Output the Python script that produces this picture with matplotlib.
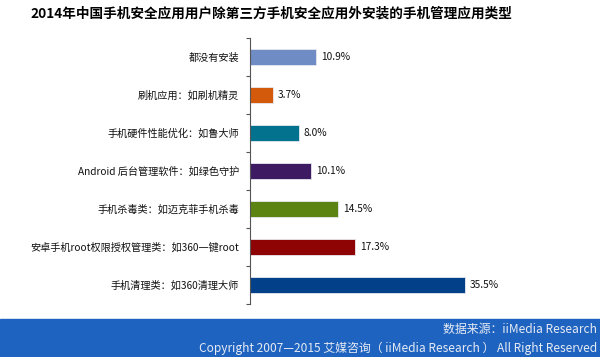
import matplotlib
matplotlib.use("Agg")
import matplotlib.pyplot as plt
from matplotlib.patches import Rectangle

plt.rcParams['font.family'] = ['Noto Sans CJK SC', 'DejaVu Sans']

# data, top to bottom as in the picture
categories = ["都没有安装", "刷机应用：如刷机精灵", "手机硬件性能优化：如鲁大师",
              "Android 后台管理软件：如绿色守护", "手机杀毒类：如迈克菲手机杀毒",
              "安卓手机root权限授权管理类：如360一键root", "手机清理类：如360清理大师"]
values = [10.9, 3.7, 8.0, 10.1, 14.5, 17.3, 35.5]
colors = ["#6f8cc4", "#d25a0a", "#03728f", "#3d1a62", "#5b8412", "#8e0404", "#03408a"]

title = "2014年中国手机安全应用用户除第三方手机安全应用外安装的手机管理应用类型"
source = "数据来源：iiMedia Research"
copyright_txt = "Copyright 2007—2015 艾媒咨询（ iiMedia Research ） All Right Reserved"

fig = plt.figure(figsize=(6, 3.57), dpi=100)
ax = fig.add_axes([0.417, 0.1485, 0.505, 0.745])

ypos = list(range(len(categories)))
ax.barh(ypos, values, height=0.42, color=colors, edgecolor="#e8e8f0", linewidth=0.6)
ax.set_ylim(len(categories) - 0.5, -0.5)
ax.set_xlim(0, 50)

for y, v in zip(ypos, values):
    ax.text(v + 0.8, y, "%.1f%%" % v, va="center", ha="left", fontsize=7.3, color="#111111")

ax.set_yticks(ypos)
ax.set_yticklabels(categories, fontsize=7.3, color="#111111")
ax.tick_params(axis="y", which="major", length=0, pad=8)
ax.set_yticks([y - 0.5 for y in range(len(categories) + 1)], minor=True)
ax.tick_params(axis="y", which="minor", length=3, color="#555555", width=0.8)
ax.set_xticks([])
for s in ["top", "right", "bottom"]:
    ax.spines[s].set_visible(False)
ax.spines["left"].set_color("#555555")
ax.spines["left"].set_linewidth(0.8)

fig.text(0.05, 0.963, title, fontsize=9.8, fontweight="bold", ha="left", va="center", color="#000000")

fig.patches.append(Rectangle((0, 0), 1, 0.106, transform=fig.transFigure, color="#1f63c0", zorder=0))
fig.text(0.995, 0.076, source, fontsize=8.6, color="#e6ebf4", ha="right", va="center")
fig.text(0.995, 0.024, copyright_txt, fontsize=8.6, color="#e6ebf4", ha="right", va="center")

plt.savefig("out.png", dpi=100)
